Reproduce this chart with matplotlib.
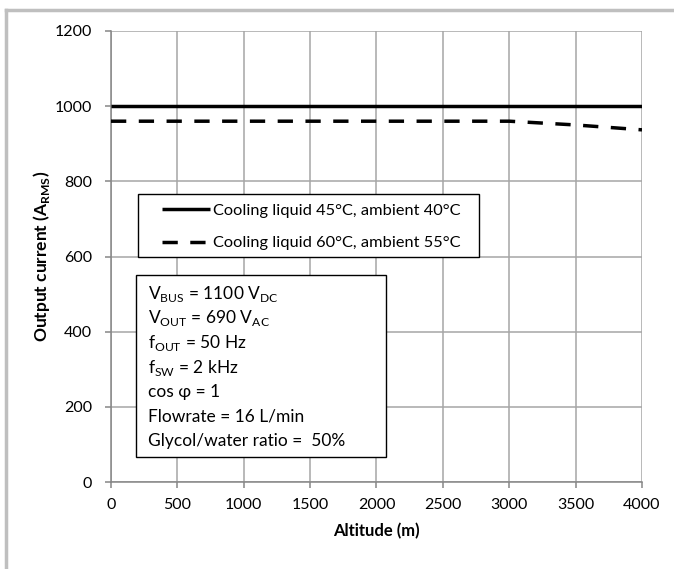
import matplotlib
matplotlib.use("Agg")
import matplotlib.pyplot as plt
from matplotlib.lines import Line2D
from matplotlib.patches import Rectangle

plt.rcParams['font.family'] = ['Lato', 'DejaVu Sans']
plt.rcParams['mathtext.fontset'] = 'custom'
plt.rcParams['mathtext.rm'] = 'Lato'
plt.rcParams['mathtext.bf'] = 'Lato:bold'

# Data
altitude = [0, 500, 1000, 1500, 2000, 2500, 3000, 3500, 4000]
current_45 = [1000, 1000, 1000, 1000, 1000, 1000, 1000, 1000, 1000]
current_60 = [960, 960, 960, 960, 960, 960, 960, 950, 937]
series_labels = ["Cooling liquid 45°C, ambient 40°C", "Cooling liquid 60°C, ambient 55°C"]
x_ticks = [0, 500, 1000, 1500, 2000, 2500, 3000, 3500, 4000]
y_ticks = [0, 200, 400, 600, 800, 1000, 1200]
info_lines = [
    r"V$_{\mathregular{BUS}}$ = 1100 V$_{\mathregular{DC}}$",
    r"V$_{\mathregular{OUT}}$ = 690 V$_{\mathregular{AC}}$",
    r"f$_{\mathregular{OUT}}$ = 50 Hz",
    r"f$_{\mathregular{SW}}$ = 2 kHz",
    "cos φ = 1",
    "Flowrate = 16 L/min",
    "Glycol/water ratio =  50%",
]

W, H = 674, 569
fig = plt.figure(figsize=(W / 100, H / 100), dpi=100)
L, R, T, B = 111, 642, 31, 482
ax = fig.add_axes([L / W, 1 - B / H, (R - L) / W, (B - T) / H])


def ax_x(px):
    return (px - L) / (R - L)


def ax_y(py):
    return (B - py) / (B - T)


LW = 2.5
DASH = (4.4, 3.6)
grid_c = '#A6A6A6'
ax.plot(altitude, current_45, color='black', lw=LW, solid_capstyle='butt', zorder=3)
ax.plot(altitude, current_60, color='black', lw=LW, dashes=DASH, zorder=3)

ax.set_xlim(0, 4000)
ax.set_ylim(0, 1200)
ax.set_xticks(x_ticks)
ax.set_yticks(y_ticks)
ax.grid(True, color=grid_c, lw=1.1)
ax.set_axisbelow(True)
for s in ['top', 'right']:
    ax.spines[s].set_visible(False)
for s in ['left', 'bottom']:
    ax.spines[s].set_color('#868686')
    ax.spines[s].set_linewidth(1.1)
ax.tick_params(axis='both', colors='#868686', length=4.5, width=1.1, labelsize=11.5, labelcolor='black')
ax.tick_params(axis='y', pad=9)
ax.tick_params(axis='x', pad=7)

ax.set_xlabel("Altitude (m)", fontsize=12, fontweight='bold', labelpad=8)
ax.set_ylabel(r"Output current (A$_{\mathbf{RMS}}$)", fontsize=12.5, fontweight='bold', labelpad=2)

# legend (drawn as box + sample lines + labels)
lx0, lx1, ly0, ly1 = 138, 479, 194, 257
ax.add_patch(Rectangle((ax_x(lx0), ax_y(ly1)), ax_x(lx1) - ax_x(lx0), ax_y(ly0) - ax_y(ly1),
                       transform=ax.transAxes, facecolor='white', edgecolor='black', lw=1.0, zorder=4))
row_y = [209, 242]
styles = [dict(solid_capstyle='butt'), dict(dashes=DASH)]
for yy, lab, st in zip(row_y, series_labels, styles):
    ax.add_line(Line2D([ax_x(162), ax_x(210)], [ax_y(yy), ax_y(yy)], transform=ax.transAxes,
                       color='black', lw=LW, zorder=5, **st))
    ax.text(ax_x(213), ax_y(yy), lab, transform=ax.transAxes, fontsize=11.8,
            va='center_baseline', ha='left', zorder=5)

# info box
bx0, bx1, by0, by1 = 136, 386, 275, 457
ax.add_patch(Rectangle((ax_x(bx0), ax_y(by1)), ax_x(bx1) - ax_x(bx0), ax_y(by0) - ax_y(by1),
                       transform=ax.transAxes, facecolor='white', edgecolor='black', lw=1.0, zorder=4))
for i, line in enumerate(info_lines):
    yb = 299 + i * 24.5
    ax.text(ax_x(148), ax_y(yb), line, transform=ax.transAxes,
            fontsize=12.5, va='baseline', ha='left', zorder=5)

# outer chart border (gray)
fig.add_artist(Line2D([6 / W, 6 / W], [0, 1 - 10 / H], transform=fig.transFigure, color='#BFBFBF', lw=2.5))
fig.add_artist(Line2D([6 / W, 1], [1 - 10 / H, 1 - 10 / H], transform=fig.transFigure, color='#BFBFBF', lw=2.5))

fig.savefig("out.png", dpi=100)
